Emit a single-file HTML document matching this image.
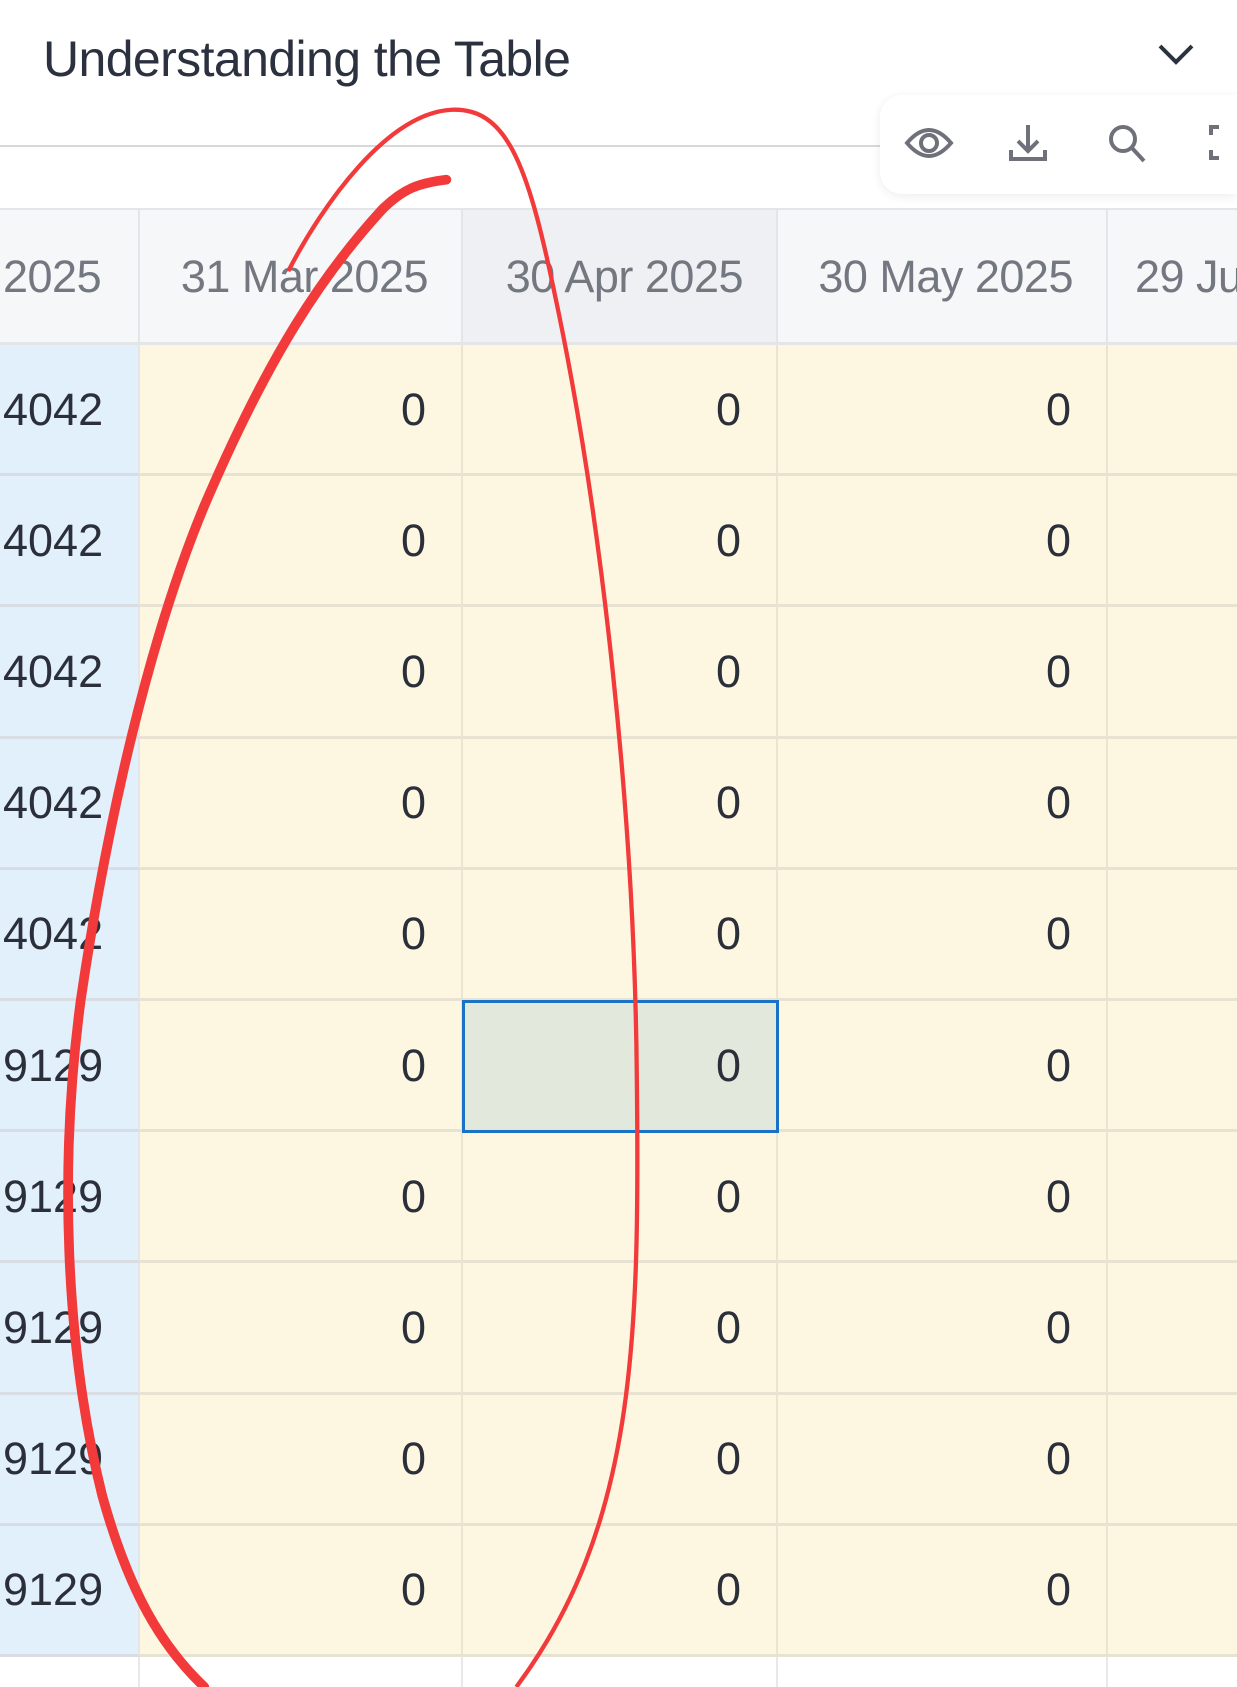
<!DOCTYPE html>
<html><head><meta charset="utf-8">
<style>
html,body{margin:0;width:1237px;height:1687px;overflow:hidden}
body{background:#fff;font-family:"Liberation Sans",sans-serif;position:relative}
.abs{position:absolute}
#title{left:43px;top:30px;font-size:50px;color:#2c3140;letter-spacing:-0.6px}
#rule{left:0;top:145px;width:882px;height:2px;background:#d8d8da}
#toolbar{left:880px;top:95px;width:357px;height:99px;background:#fff;border-radius:22px 0 0 22px;box-shadow:0 2px 10px rgba(0,0,0,0.08)}
.cell{position:absolute;box-sizing:border-box;font-size:45px;line-height:1;display:flex;align-items:center;overflow:hidden;white-space:nowrap}
.hdr{background:#f6f7f9;color:#737780;border-right:2px solid #e4e5e8;border-bottom:3px solid #e4e5e8;justify-content:flex-end;padding-right:33px;letter-spacing:-0.5px}
.body{background:#fdf6e0;color:#2b2f3a;border-right:2px solid #ebe4d2;border-bottom:3px solid #e8e2d2;justify-content:flex-end;padding-right:35px}
.first{background:#e2f0fc;border-right:2px solid #e4e5e8;border-bottom:3px solid #d9dde3;justify-content:flex-start;padding-left:3px;padding-right:0}
#overlay{z-index:10}
</style></head><body>
<div id="title" class="abs">Understanding the Table</div>
<svg class="abs" style="left:1156px;top:42px" width="40" height="26"><polyline points="4,4 20,20 36,4" fill="none" stroke="#2c3140" stroke-width="4"/></svg>
<div id="rule" class="abs"></div>
<div id="toolbar" class="abs"></div>
<svg class="abs" style="left:880px;top:95px" width="357" height="99">
 <g fill="none" stroke="#6e717a" stroke-width="4"><path d="M27,48 Q49,22 71,48 Q49,74 27,48Z"/><circle cx="49" cy="48" r="8"/></g>
 <g fill="none" stroke="#6e717a" stroke-width="4"><line x1="148" y1="30" x2="148" y2="55"/><polyline points="138,46 148,56 158,46"/><polyline points="131,55 131,64 165,64 165,55"/></g>
 <g fill="none" stroke="#6e717a" stroke-width="4"><circle cx="243" cy="44" r="12"/><line x1="252" y1="53" x2="264" y2="66"/></g>
 <g fill="none" stroke="#6e717a" stroke-width="4"><polyline points="331,40 331,32 339,32"/><polyline points="331,55 331,63 339,63"/></g>
</svg>
<div id="table"></div>
<svg id="overlay" class="abs" style="left:0;top:0;pointer-events:none" width="1237" height="1687" viewBox="0 0 1150 1568" preserveAspectRatio="none">
 <path d="M268,252 C300,190 360,105 420,102 C470,100 490,150 515,270 C560,480 590,760 592,1000 C595,1250 590,1420 480,1568" fill="none" stroke="#f23a3a" stroke-width="4"/>
 <path d="M415,167 C390,170 375,175 355,195 C300,255 250,330 190,470 C140,590 100,760 75,930 C55,1080 60,1250 95,1390 C120,1480 150,1530 190,1568" fill="none" stroke="#f23a3a" stroke-width="9" stroke-linecap="round"/>
</svg>
<script>
const columns=["2025","31 Mar 2025","30 Apr 2025","30 May 2025","29 Ju"];
const firstColValues=["4042","4042","4042","4042","4042","9129","9129","9129","9129","9129"];
const mar=[0,0,0,0,0,0,0,0,0,0];
const apr=[0,0,0,0,0,0,0,0,0,0];
const may=[0,0,0,0,0,0,0,0,0,0];
const selectedRow=5;
const colX=[-10,140,463,778,1108,1237];
const headTop=210,headH=135,rowH=131.2;
const t=document.getElementById('table');
function mk(cls,x,y,w,h,txt){const d=document.createElement('div');d.className='cell '+cls;d.style.left=x+'px';d.style.top=y+'px';d.style.width=w+'px';d.style.height=h+'px';d.textContent=txt;t.appendChild(d);return d;}
const hdrBorder=document.createElement('div');hdrBorder.className='abs';hdrBorder.style.cssText='left:0;top:208px;width:1237px;height:2px;background:#e4e5e8';


t.appendChild(hdrBorder);
columns.forEach((c,i)=>{
 const d=mk('hdr',colX[i],headTop,colX[i+1]-colX[i],headH,c);
 if(i===0){d.style.justifyContent='flex-start';d.style.paddingLeft='13px';}
 if(i===4){d.style.justifyContent='flex-start';d.style.paddingLeft='27px';d.style.borderRight='none';}
 if(i===2)d.style.background='#eff0f3';
 
 
});
const cols=[firstColValues,mar,apr,may];
for(let r=0;r<firstColValues.length;r++){
 const y=headTop+headH+r*rowH;
 for(let c=0;c<5;c++){
  const v=c<4?String(cols[c][r]):'';
  const d=mk(c===0?'body first':'body',colX[c],y,colX[c+1]-colX[c],rowH,v);
  if(c===0)d.style.paddingLeft='13px';
  if(c===4)d.style.borderRight='none';
  if(c===2&&r===selectedRow){d.style.background='#e3e8dd';d.style.outline='3px solid #1a72c6';d.style.outlineOffset='-2px';d.style.zIndex=2;}
  
  
 }
}
const endY=headTop+headH+firstColValues.length*rowH;
for(let c=1;c<5;c++){
 const l=document.createElement('div');l.className='abs';l.style.cssText='left:'+(colX[c]-2)+'px;top:'+endY+'px;width:2px;height:'+(1687-endY)+'px;background:#e8e8ea';
 
 
 t.appendChild(l);
}
</script>
</body></html>
